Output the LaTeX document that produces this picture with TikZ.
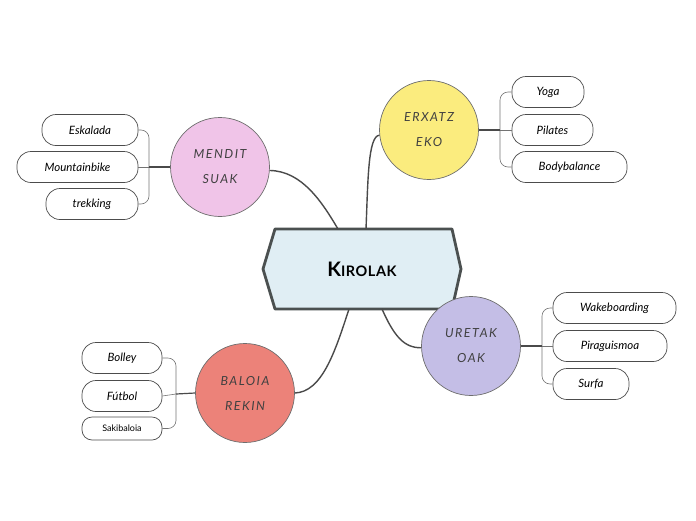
\documentclass[tikz,border=0pt]{standalone}
\usepackage{fontspec}
\setmainfont{Lato}
\newfontfamily\hand[LetterSpace=12]{Lato Italic}
\newfontfamily\leaffont{Lato Italic}
\newfontfamily\plainfont{Lato}
\newfontfamily\titlefont[LetterSpace=4]{Lato Bold}
\definecolor{hexfill}{HTML}{E0EEF4}
\definecolor{hexline}{HTML}{4B5050}
\definecolor{cpink}{HTML}{F0C4E8}
\definecolor{cyellow}{HTML}{FBEC7E}
\definecolor{clav}{HTML}{C4BEE6}
\definecolor{csalmon}{HTML}{EC8279}
\definecolor{conn}{HTML}{4A4A4A}
\begin{document}
\begin{tikzpicture}[x=1pt,y=-1pt,
  topic/.style={circle,draw=conn!80,line width=0.7pt,minimum size=99pt,inner sep=0pt,align=center,font=\hand\fontsize{12.5}{25}\selectfont,text=black!75},
  leaf/.style={draw=black!70,line width=0.7pt,rounded corners=14pt,minimum height=31pt,inner sep=0pt,font=\leaffont\fontsize{11.5}{13}\selectfont,fill=white},
  mainconn/.style={draw=conn,line width=1.4pt},
  brk/.style={draw=black!55,line width=0.6pt,rounded corners=8pt},
  stub/.style={draw=conn,line width=1.2pt}]
\useasboundingbox (0,0) rectangle (696,520);
% hexagon
\draw[fill=hexfill,draw=hexline,line width=2.8pt,line join=round]
  (275,229) -- (452,229) -- (461,269) -- (452,309) -- (275,309) -- (263,269) -- cycle;
\node (hex) at (362,269) {\titlefont\fontsize{20}{20}\selectfont K\fontsize{14.5}{15}\selectfont IROLAK};
\coordinate (hm) at (338,229);
\coordinate (he) at (366,229);
\coordinate (hu) at (382,309);
\coordinate (hb) at (349,309);
% topics
\node[topic,fill=cpink] (m) at (220,167) {MENDIT\\SUAK};
\node[topic,fill=cyellow] (e) at (429,130) {ERXATZ\\EKO};
\node[topic,fill=clav] (u) at (471,346) {URETAK\\OAK};
\node[topic,fill=csalmon] (b) at (245,393) {BALOIA\\REKIN};
% main connectors
\draw[mainconn] (hm) .. controls (322,202) and (302,171) .. (m.-4);
\draw[mainconn] (he) .. controls (368,180) and (368,136) .. (e.186);
\draw[mainconn] (hu) .. controls (394,336) and (404,348) .. (u.182);
\draw[mainconn] (hb) .. controls (335,352) and (322,392) .. (b.0);
% MENDIT leaves
\node[leaf,minimum width=96pt] (m1) at (90,130) {Eskalada};
\node[leaf,minimum width=121pt] (m2) at (77.5,167) {Mountainbike};
\node[leaf,minimum width=92pt] (m3) at (92,204) {trekking};
\coordinate (mj) at (149,167);
\draw[brk] (m1.east) -| (mj) |- (m3.east);
\draw[brk] (m2.east) -- (mj);
\draw[stub] (mj) -- (m.west);
% ERXATZ leaves
\node[leaf,minimum width=72pt] (e1) at (548,92) {Yoga};
\node[leaf,minimum width=81pt] (e2) at (552.5,130) {Pilates};
\node[leaf,minimum width=115pt] (e3) at (569.5,167) {Bodybalance};
\coordinate (ej) at (500,130);
\draw[brk] (e1.west) -| (ej) |- (e3.west);
\draw[brk] (e2.west) -- (ej);
\draw[stub] (e.east) -- (ej);
% URETAK leaves
\node[leaf,minimum width=123pt] (u1) at (614.5,308) {Wakeboarding};
\node[leaf,minimum width=114pt] (u2) at (610,346) {Piraguismoa};
\node[leaf,minimum width=76pt] (u3) at (591,384) {Surfa};
\coordinate (uj) at (542,346);
\draw[brk] (u1.west) -| (uj) |- (u3.west);
\draw[brk] (u2.west) -- (uj);
\draw[stub] (u.east) -- (uj);
% BALOIA leaves
\node[leaf,minimum width=80pt] (b1) at (122,358) {Bolley};
\node[leaf,minimum width=80pt] (b2) at (122,396) {Fútbol};
\node[leaf,minimum width=80pt,minimum height=23pt,rounded corners=10pt,font=\plainfont\fontsize{9}{10}\selectfont] (b3) at (122,428.5) {Sakibaloia};
\coordinate (bj) at (176,394);
\draw[brk] (b1.east) -| (bj) |- (b3.east);
\draw[brk] (b2.east) -- (bj);
\draw[stub] (bj) -- (b.west);
\end{tikzpicture}
\end{document}
